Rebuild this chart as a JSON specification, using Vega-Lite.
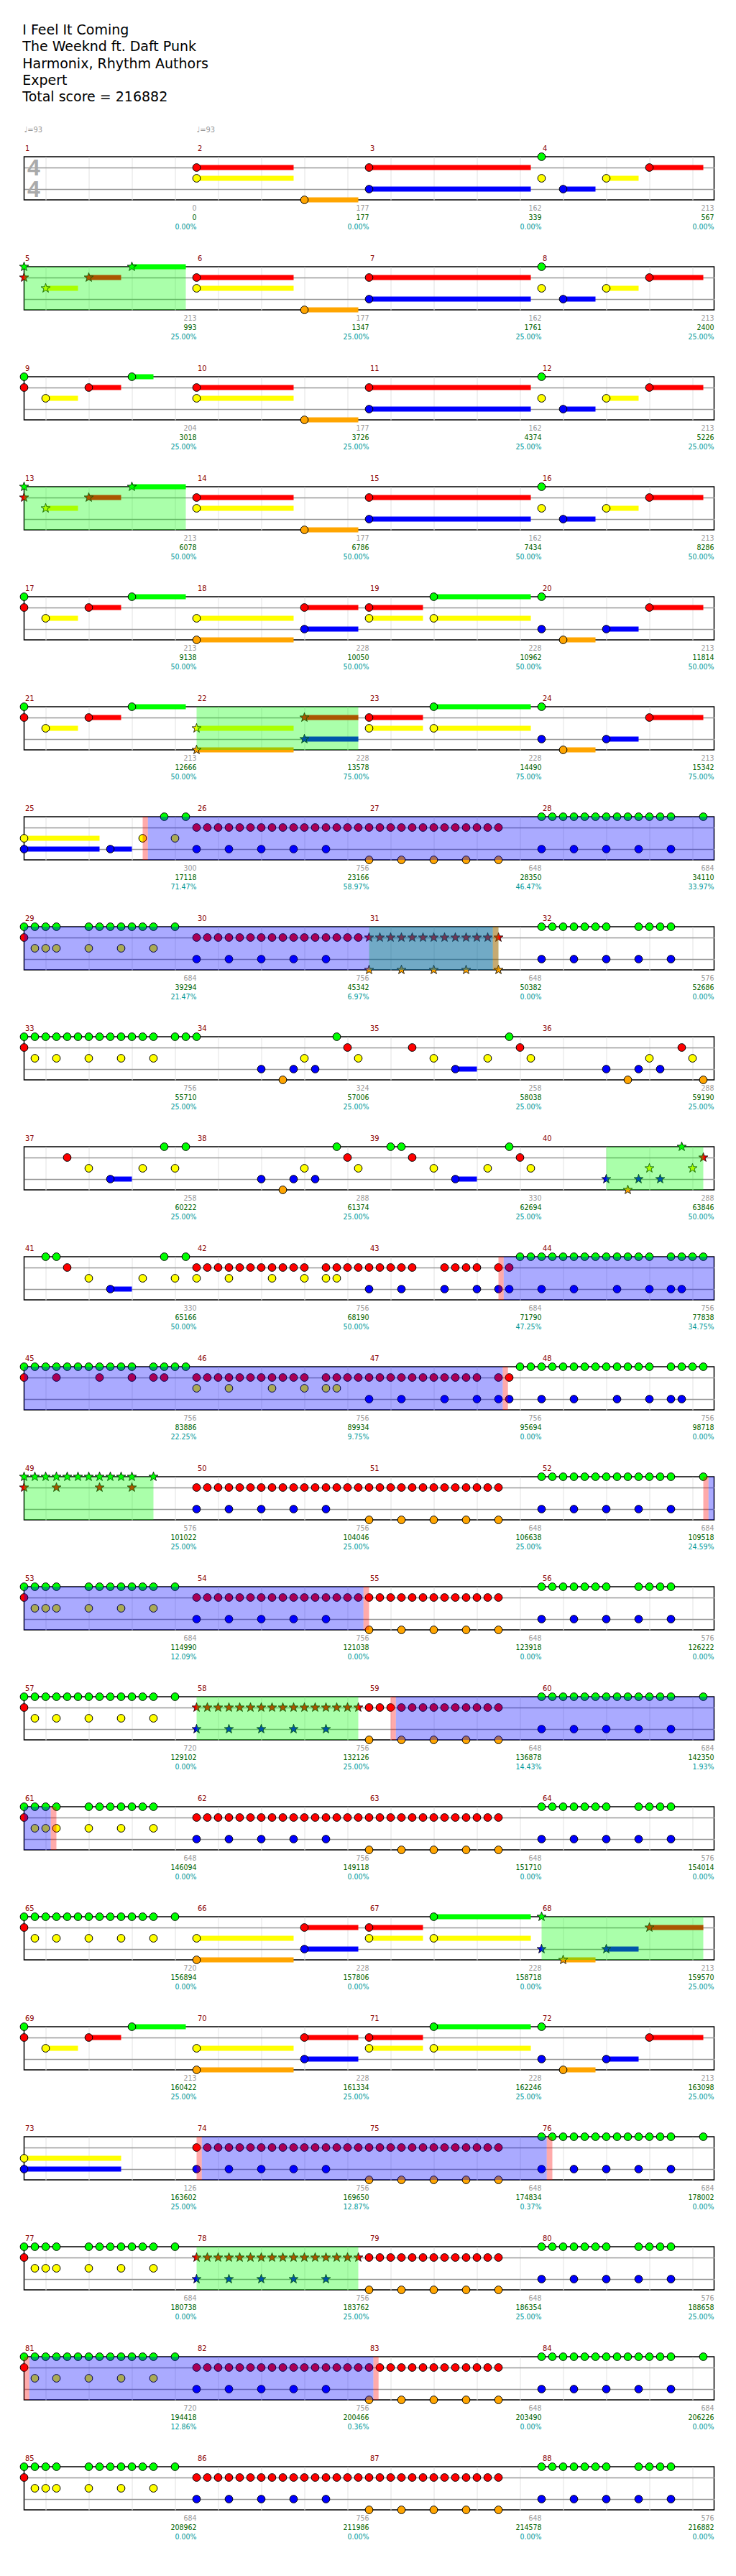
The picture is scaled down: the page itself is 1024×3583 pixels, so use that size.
{
"$schema":"https://vega.github.io/schema/vega-lite/v6.json",
"background":"white",
"padding":{"left":24.5,"top":33,"right":33,"bottom":20},
"title":{"text":["I Feel It Coming","The Weeknd ft. Daft Punk","Harmonix, Rhythm Authors","Expert","Total score = 216882"],"anchor":"start","font":"DejaVu Sans","fontSize":19,"fontWeight":"normal","lineHeight":23.3,"color":"#000000","offset":29,"dx":6.5},
"data":{"values":[
{"k":"ts","r":0,"t":"4"},
{"k":"tp","r":0,"b":0,"t":"♩=93"},{"k":"tp","r":0,"b":4,"t":"♩=93"},
{"k":"sp","r":1,"b":0,"e":3.75},{"k":"sp","r":3,"b":0,"e":3.75},{"k":"sp","r":5,"b":4,"e":7.75},{"k":"sp","r":7,"b":8,"e":11},{"k":"sp","r":9,"b":13.5,"e":15.75},{"k":"sp","r":12,"b":0,"e":3},{"k":"sp","r":14,"b":4,"e":7.75},{"k":"sp","r":16,"b":12,"e":15.75},{"k":"sp","r":19,"b":4,"e":7.75},
{"k":"od","r":6,"b":2.87,"e":16},{"k":"od","r":7,"b":0,"e":10.87},{"k":"od","r":10,"b":11.12,"e":16},{"k":"od","r":11,"b":0,"e":11.1},{"k":"od","r":12,"b":15.87,"e":16},{"k":"od","r":13,"b":0,"e":7.87},{"k":"od","r":14,"b":8.62,"e":16},{"k":"od","r":15,"b":0,"e":0.62},{"k":"od","r":18,"b":4.12,"e":12.12},{"k":"od","r":20,"b":0.12,"e":8.1},
{"k":"act","r":6,"b":2.75,"e":2.87},{"k":"act","r":7,"b":10.87,"e":11},{"k":"act","r":10,"b":11,"e":11.12},{"k":"act","r":11,"b":11.1,"e":11.22},{"k":"act","r":12,"b":15.75,"e":15.87},{"k":"act","r":13,"b":7.87,"e":8},{"k":"act","r":14,"b":8.5,"e":8.62},{"k":"act","r":15,"b":0.62,"e":0.75},{"k":"act","r":18,"b":4,"e":4.12},{"k":"act","r":18,"b":12.12,"e":12.25},{"k":"act","r":20,"b":0,"e":0.12},{"k":"act","r":20,"b":8.1,"e":8.22},
{"k":"m","r":0,"m":"1","b":0,"e":4,"g":"0","c":"0","p":"0.00%"},{"k":"m","r":0,"m":"2","b":4,"e":8,"g":"177","c":"177","p":"0.00%"},{"k":"m","r":0,"m":"3","b":8,"e":12,"g":"162","c":"339","p":"0.00%"},{"k":"m","r":0,"m":"4","b":12,"e":16,"g":"213","c":"567","p":"0.00%"},
{"k":"m","r":1,"m":"5","b":0,"e":4,"g":"213","c":"993","p":"25.00%"},{"k":"m","r":1,"m":"6","b":4,"e":8,"g":"177","c":"1347","p":"25.00%"},{"k":"m","r":1,"m":"7","b":8,"e":12,"g":"162","c":"1761","p":"25.00%"},{"k":"m","r":1,"m":"8","b":12,"e":16,"g":"213","c":"2400","p":"25.00%"},
{"k":"m","r":2,"m":"9","b":0,"e":4,"g":"204","c":"3018","p":"25.00%"},{"k":"m","r":2,"m":"10","b":4,"e":8,"g":"177","c":"3726","p":"25.00%"},{"k":"m","r":2,"m":"11","b":8,"e":12,"g":"162","c":"4374","p":"25.00%"},{"k":"m","r":2,"m":"12","b":12,"e":16,"g":"213","c":"5226","p":"25.00%"},
{"k":"m","r":3,"m":"13","b":0,"e":4,"g":"213","c":"6078","p":"50.00%"},{"k":"m","r":3,"m":"14","b":4,"e":8,"g":"177","c":"6786","p":"50.00%"},{"k":"m","r":3,"m":"15","b":8,"e":12,"g":"162","c":"7434","p":"50.00%"},{"k":"m","r":3,"m":"16","b":12,"e":16,"g":"213","c":"8286","p":"50.00%"},
{"k":"m","r":4,"m":"17","b":0,"e":4,"g":"213","c":"9138","p":"50.00%"},{"k":"m","r":4,"m":"18","b":4,"e":8,"g":"228","c":"10050","p":"50.00%"},{"k":"m","r":4,"m":"19","b":8,"e":12,"g":"228","c":"10962","p":"50.00%"},{"k":"m","r":4,"m":"20","b":12,"e":16,"g":"213","c":"11814","p":"50.00%"},
{"k":"m","r":5,"m":"21","b":0,"e":4,"g":"213","c":"12666","p":"50.00%"},{"k":"m","r":5,"m":"22","b":4,"e":8,"g":"228","c":"13578","p":"75.00%"},{"k":"m","r":5,"m":"23","b":8,"e":12,"g":"228","c":"14490","p":"75.00%"},{"k":"m","r":5,"m":"24","b":12,"e":16,"g":"213","c":"15342","p":"75.00%"},
{"k":"m","r":6,"m":"25","b":0,"e":4,"g":"300","c":"17118","p":"71.47%"},{"k":"m","r":6,"m":"26","b":4,"e":8,"g":"756","c":"23166","p":"58.97%"},{"k":"m","r":6,"m":"27","b":8,"e":12,"g":"648","c":"28350","p":"46.47%"},{"k":"m","r":6,"m":"28","b":12,"e":16,"g":"684","c":"34110","p":"33.97%"},
{"k":"m","r":7,"m":"29","b":0,"e":4,"g":"684","c":"39294","p":"21.47%"},{"k":"m","r":7,"m":"30","b":4,"e":8,"g":"756","c":"45342","p":"6.97%"},{"k":"m","r":7,"m":"31","b":8,"e":12,"g":"648","c":"50382","p":"0.00%"},{"k":"m","r":7,"m":"32","b":12,"e":16,"g":"576","c":"52686","p":"0.00%"},
{"k":"m","r":8,"m":"33","b":0,"e":4,"g":"756","c":"55710","p":"25.00%"},{"k":"m","r":8,"m":"34","b":4,"e":8,"g":"324","c":"57006","p":"25.00%"},{"k":"m","r":8,"m":"35","b":8,"e":12,"g":"258","c":"58038","p":"25.00%"},{"k":"m","r":8,"m":"36","b":12,"e":16,"g":"288","c":"59190","p":"25.00%"},
{"k":"m","r":9,"m":"37","b":0,"e":4,"g":"258","c":"60222","p":"25.00%"},{"k":"m","r":9,"m":"38","b":4,"e":8,"g":"288","c":"61374","p":"25.00%"},{"k":"m","r":9,"m":"39","b":8,"e":12,"g":"330","c":"62694","p":"25.00%"},{"k":"m","r":9,"m":"40","b":12,"e":16,"g":"288","c":"63846","p":"50.00%"},
{"k":"m","r":10,"m":"41","b":0,"e":4,"g":"330","c":"65166","p":"50.00%"},{"k":"m","r":10,"m":"42","b":4,"e":8,"g":"756","c":"68190","p":"50.00%"},{"k":"m","r":10,"m":"43","b":8,"e":12,"g":"684","c":"71790","p":"47.25%"},{"k":"m","r":10,"m":"44","b":12,"e":16,"g":"756","c":"77838","p":"34.75%"},
{"k":"m","r":11,"m":"45","b":0,"e":4,"g":"756","c":"83886","p":"22.25%"},{"k":"m","r":11,"m":"46","b":4,"e":8,"g":"756","c":"89934","p":"9.75%"},{"k":"m","r":11,"m":"47","b":8,"e":12,"g":"756","c":"95694","p":"0.00%"},{"k":"m","r":11,"m":"48","b":12,"e":16,"g":"756","c":"98718","p":"0.00%"},
{"k":"m","r":12,"m":"49","b":0,"e":4,"g":"576","c":"101022","p":"25.00%"},{"k":"m","r":12,"m":"50","b":4,"e":8,"g":"756","c":"104046","p":"25.00%"},{"k":"m","r":12,"m":"51","b":8,"e":12,"g":"648","c":"106638","p":"25.00%"},{"k":"m","r":12,"m":"52","b":12,"e":16,"g":"684","c":"109518","p":"24.59%"},
{"k":"m","r":13,"m":"53","b":0,"e":4,"g":"684","c":"114990","p":"12.09%"},{"k":"m","r":13,"m":"54","b":4,"e":8,"g":"756","c":"121038","p":"0.00%"},{"k":"m","r":13,"m":"55","b":8,"e":12,"g":"648","c":"123918","p":"0.00%"},{"k":"m","r":13,"m":"56","b":12,"e":16,"g":"576","c":"126222","p":"0.00%"},
{"k":"m","r":14,"m":"57","b":0,"e":4,"g":"720","c":"129102","p":"0.00%"},{"k":"m","r":14,"m":"58","b":4,"e":8,"g":"756","c":"132126","p":"25.00%"},{"k":"m","r":14,"m":"59","b":8,"e":12,"g":"648","c":"136878","p":"14.43%"},{"k":"m","r":14,"m":"60","b":12,"e":16,"g":"684","c":"142350","p":"1.93%"},
{"k":"m","r":15,"m":"61","b":0,"e":4,"g":"648","c":"146094","p":"0.00%"},{"k":"m","r":15,"m":"62","b":4,"e":8,"g":"756","c":"149118","p":"0.00%"},{"k":"m","r":15,"m":"63","b":8,"e":12,"g":"648","c":"151710","p":"0.00%"},{"k":"m","r":15,"m":"64","b":12,"e":16,"g":"576","c":"154014","p":"0.00%"},
{"k":"m","r":16,"m":"65","b":0,"e":4,"g":"720","c":"156894","p":"0.00%"},{"k":"m","r":16,"m":"66","b":4,"e":8,"g":"228","c":"157806","p":"0.00%"},{"k":"m","r":16,"m":"67","b":8,"e":12,"g":"228","c":"158718","p":"0.00%"},{"k":"m","r":16,"m":"68","b":12,"e":16,"g":"213","c":"159570","p":"25.00%"},
{"k":"m","r":17,"m":"69","b":0,"e":4,"g":"213","c":"160422","p":"25.00%"},{"k":"m","r":17,"m":"70","b":4,"e":8,"g":"228","c":"161334","p":"25.00%"},{"k":"m","r":17,"m":"71","b":8,"e":12,"g":"228","c":"162246","p":"25.00%"},{"k":"m","r":17,"m":"72","b":12,"e":16,"g":"213","c":"163098","p":"25.00%"},
{"k":"m","r":18,"m":"73","b":0,"e":4,"g":"126","c":"163602","p":"25.00%"},{"k":"m","r":18,"m":"74","b":4,"e":8,"g":"756","c":"169650","p":"12.87%"},{"k":"m","r":18,"m":"75","b":8,"e":12,"g":"648","c":"174834","p":"0.37%"},{"k":"m","r":18,"m":"76","b":12,"e":16,"g":"684","c":"178002","p":"0.00%"},
{"k":"m","r":19,"m":"77","b":0,"e":4,"g":"684","c":"180738","p":"0.00%"},{"k":"m","r":19,"m":"78","b":4,"e":8,"g":"756","c":"183762","p":"25.00%"},{"k":"m","r":19,"m":"79","b":8,"e":12,"g":"648","c":"186354","p":"25.00%"},{"k":"m","r":19,"m":"80","b":12,"e":16,"g":"576","c":"188658","p":"25.00%"},
{"k":"m","r":20,"m":"81","b":0,"e":4,"g":"720","c":"194418","p":"12.86%"},{"k":"m","r":20,"m":"82","b":4,"e":8,"g":"756","c":"200466","p":"0.36%"},{"k":"m","r":20,"m":"83","b":8,"e":12,"g":"648","c":"203490","p":"0.00%"},{"k":"m","r":20,"m":"84","b":12,"e":16,"g":"684","c":"206226","p":"0.00%"},
{"k":"m","r":21,"m":"85","b":0,"e":4,"g":"684","c":"208962","p":"0.00%"},{"k":"m","r":21,"m":"86","b":4,"e":8,"g":"756","c":"211986","p":"0.00%"},{"k":"m","r":21,"m":"87","b":8,"e":12,"g":"648","c":"214578","p":"0.00%"},{"k":"m","r":21,"m":"88","b":12,"e":16,"g":"576","c":"216882","p":"0.00%"},

{"r":0,"b":4,"l":1,"e":6.25},{"r":0,"b":4,"l":2,"e":6.25},{"r":0,"b":6.5,"l":4,"e":7.75},{"r":0,"b":8,"l":1,"e":11.75},{"r":0,"b":8,"l":3,"e":11.75},{"r":0,"b":12,"l":0},{"r":0,"b":12,"l":2},{"r":0,"b":12.5,"l":3,"e":13.25},{"r":0,"b":13.5,"l":2,"e":14.25},{"r":0,"b":14.5,"l":1,"e":15.75},

{"r":1,"b":0,"l":0,"s":1},{"r":1,"b":2.5,"l":0,"e":3.75,"s":1},{"r":1,"b":0,"l":1,"s":1},{"r":1,"b":1.5,"l":1,"e":2.25,"s":1},{"r":1,"b":0.5,"l":2,"e":1.25,"s":1},
{"r":1,"b":4,"l":1,"e":6.25},{"r":1,"b":4,"l":2,"e":6.25},{"r":1,"b":6.5,"l":4,"e":7.75},{"r":1,"b":8,"l":1,"e":11.75},{"r":1,"b":8,"l":3,"e":11.75},{"r":1,"b":12,"l":0},{"r":1,"b":12,"l":2},{"r":1,"b":12.5,"l":3,"e":13.25},{"r":1,"b":13.5,"l":2,"e":14.25},{"r":1,"b":14.5,"l":1,"e":15.75},

{"r":2,"b":0,"l":0},{"r":2,"b":2.5,"l":0,"e":3},{"r":2,"b":0,"l":1},{"r":2,"b":1.5,"l":1,"e":2.25},{"r":2,"b":0.5,"l":2,"e":1.25},
{"r":2,"b":4,"l":1,"e":6.25},{"r":2,"b":4,"l":2,"e":6.25},{"r":2,"b":6.5,"l":4,"e":7.75},{"r":2,"b":8,"l":1,"e":11.75},{"r":2,"b":8,"l":3,"e":11.75},{"r":2,"b":12,"l":0},{"r":2,"b":12,"l":2},{"r":2,"b":12.5,"l":3,"e":13.25},{"r":2,"b":13.5,"l":2,"e":14.25},{"r":2,"b":14.5,"l":1,"e":15.75},

{"r":3,"b":0,"l":0,"s":1},{"r":3,"b":2.5,"l":0,"e":3.75,"s":1},{"r":3,"b":0,"l":1,"s":1},{"r":3,"b":1.5,"l":1,"e":2.25,"s":1},{"r":3,"b":0.5,"l":2,"e":1.25,"s":1},
{"r":3,"b":4,"l":1,"e":6.25},{"r":3,"b":4,"l":2,"e":6.25},{"r":3,"b":6.5,"l":4,"e":7.75},{"r":3,"b":8,"l":1,"e":11.75},{"r":3,"b":8,"l":3,"e":11.75},{"r":3,"b":12,"l":0},{"r":3,"b":12,"l":2},{"r":3,"b":12.5,"l":3,"e":13.25},{"r":3,"b":13.5,"l":2,"e":14.25},{"r":3,"b":14.5,"l":1,"e":15.75},

{"r":4,"b":0,"l":0},{"r":4,"b":2.5,"l":0,"e":3.75},{"r":4,"b":0,"l":1},{"r":4,"b":1.5,"l":1,"e":2.25},{"r":4,"b":0.5,"l":2,"e":1.25},
{"r":4,"b":4,"l":2,"e":6.25},{"r":4,"b":4,"l":4,"e":6.25},{"r":4,"b":6.5,"l":1,"e":7.75},{"r":4,"b":6.5,"l":3,"e":7.75},
{"r":4,"b":8,"l":1,"e":9.25},{"r":4,"b":8,"l":2,"e":9.25},{"r":4,"b":9.5,"l":0,"e":11.75},{"r":4,"b":9.5,"l":2,"e":11.75},
{"r":4,"b":12,"l":0},{"r":4,"b":12,"l":3},{"r":4,"b":12.5,"l":4,"e":13.25},{"r":4,"b":13.5,"l":3,"e":14.25},{"r":4,"b":14.5,"l":1,"e":15.75},

{"r":5,"b":0,"l":0},{"r":5,"b":2.5,"l":0,"e":3.75},{"r":5,"b":0,"l":1},{"r":5,"b":1.5,"l":1,"e":2.25},{"r":5,"b":0.5,"l":2,"e":1.25},
{"r":5,"b":4,"l":2,"e":6.25,"s":1},{"r":5,"b":4,"l":4,"e":6.25,"s":1},{"r":5,"b":6.5,"l":1,"e":7.75,"s":1},{"r":5,"b":6.5,"l":3,"e":7.75,"s":1},
{"r":5,"b":8,"l":1,"e":9.25},{"r":5,"b":8,"l":2,"e":9.25},{"r":5,"b":9.5,"l":0,"e":11.75},{"r":5,"b":9.5,"l":2,"e":11.75},
{"r":5,"b":12,"l":0},{"r":5,"b":12,"l":3},{"r":5,"b":12.5,"l":4,"e":13.25},{"r":5,"b":13.5,"l":3,"e":14.25},{"r":5,"b":14.5,"l":1,"e":15.75},

{"r":6,"b":0,"l":2,"e":1.75},{"r":6,"b":0,"l":3,"e":1.75},{"r":6,"b":2,"l":3,"e":2.5},{"r":6,"b":2.75,"l":2},{"r":6,"b":3.25,"l":0},{"r":6,"b":3.5,"l":2},{"r":6,"b":3.75,"l":0},
{"r":6,"b":4,"l":1},{"r":6,"b":4.25,"l":1},{"r":6,"b":4.5,"l":1},{"r":6,"b":4.75,"l":1},{"r":6,"b":5,"l":1},{"r":6,"b":5.25,"l":1},{"r":6,"b":5.5,"l":1},{"r":6,"b":5.75,"l":1},{"r":6,"b":6,"l":1},{"r":6,"b":6.25,"l":1},{"r":6,"b":6.5,"l":1},{"r":6,"b":6.75,"l":1},{"r":6,"b":7,"l":1},{"r":6,"b":7.25,"l":1},{"r":6,"b":7.5,"l":1},{"r":6,"b":7.75,"l":1},{"r":6,"b":8,"l":1},{"r":6,"b":8.25,"l":1},{"r":6,"b":8.5,"l":1},{"r":6,"b":8.75,"l":1},{"r":6,"b":9,"l":1},{"r":6,"b":9.25,"l":1},{"r":6,"b":9.5,"l":1},{"r":6,"b":9.75,"l":1},{"r":6,"b":10,"l":1},{"r":6,"b":10.25,"l":1},{"r":6,"b":10.5,"l":1},{"r":6,"b":10.75,"l":1},{"r":6,"b":11,"l":1},
{"r":6,"b":4,"l":3},{"r":6,"b":4.75,"l":3},{"r":6,"b":5.5,"l":3},{"r":6,"b":6.25,"l":3},{"r":6,"b":7,"l":3},
{"r":6,"b":8,"l":4},{"r":6,"b":8.75,"l":4},{"r":6,"b":9.5,"l":4},{"r":6,"b":10.25,"l":4},{"r":6,"b":11,"l":4},
{"r":6,"b":12,"l":0},{"r":6,"b":12.25,"l":0},{"r":6,"b":12.5,"l":0},{"r":6,"b":12.75,"l":0},{"r":6,"b":13,"l":0},{"r":6,"b":13.25,"l":0},{"r":6,"b":13.5,"l":0},{"r":6,"b":13.75,"l":0},{"r":6,"b":14,"l":0},{"r":6,"b":14.25,"l":0},{"r":6,"b":14.5,"l":0},{"r":6,"b":14.75,"l":0},{"r":6,"b":15,"l":0},{"r":6,"b":15.75,"l":0},
{"r":6,"b":12,"l":3},{"r":6,"b":12.75,"l":3},{"r":6,"b":13.5,"l":3},{"r":6,"b":14.25,"l":3},{"r":6,"b":15,"l":3},

{"r":7,"b":0,"l":0},{"r":7,"b":0.25,"l":0},{"r":7,"b":0.5,"l":0},{"r":7,"b":0.75,"l":0},{"r":7,"b":1.5,"l":0},{"r":7,"b":1.75,"l":0},{"r":7,"b":2,"l":0},{"r":7,"b":2.25,"l":0},{"r":7,"b":2.5,"l":0},{"r":7,"b":2.75,"l":0},{"r":7,"b":3,"l":0},{"r":7,"b":3.5,"l":0},
{"r":7,"b":0,"l":1},
{"r":7,"b":0.25,"l":2},{"r":7,"b":0.5,"l":2},{"r":7,"b":0.75,"l":2},{"r":7,"b":1.5,"l":2},{"r":7,"b":2.25,"l":2},{"r":7,"b":3,"l":2},
{"r":7,"b":4,"l":1},{"r":7,"b":4.25,"l":1},{"r":7,"b":4.5,"l":1},{"r":7,"b":4.75,"l":1},{"r":7,"b":5,"l":1},{"r":7,"b":5.25,"l":1},{"r":7,"b":5.5,"l":1},{"r":7,"b":5.75,"l":1},{"r":7,"b":6,"l":1},{"r":7,"b":6.25,"l":1},{"r":7,"b":6.5,"l":1},{"r":7,"b":6.75,"l":1},{"r":7,"b":7,"l":1},{"r":7,"b":7.25,"l":1},{"r":7,"b":7.5,"l":1},{"r":7,"b":7.75,"l":1},
{"r":7,"b":8,"l":1,"s":1},{"r":7,"b":8.25,"l":1,"s":1},{"r":7,"b":8.5,"l":1,"s":1},{"r":7,"b":8.75,"l":1,"s":1},{"r":7,"b":9,"l":1,"s":1},{"r":7,"b":9.25,"l":1,"s":1},{"r":7,"b":9.5,"l":1,"s":1},{"r":7,"b":9.75,"l":1,"s":1},{"r":7,"b":10,"l":1,"s":1},{"r":7,"b":10.25,"l":1,"s":1},{"r":7,"b":10.5,"l":1,"s":1},{"r":7,"b":10.75,"l":1,"s":1},{"r":7,"b":11,"l":1,"s":1},
{"r":7,"b":4,"l":3},{"r":7,"b":4.75,"l":3},{"r":7,"b":5.5,"l":3},{"r":7,"b":6.25,"l":3},{"r":7,"b":7,"l":3},
{"r":7,"b":8,"l":4,"s":1},{"r":7,"b":8.75,"l":4,"s":1},{"r":7,"b":9.5,"l":4,"s":1},{"r":7,"b":10.25,"l":4,"s":1},{"r":7,"b":11,"l":4,"s":1},
{"r":7,"b":12,"l":0},{"r":7,"b":12.25,"l":0},{"r":7,"b":12.5,"l":0},{"r":7,"b":12.75,"l":0},{"r":7,"b":13,"l":0},{"r":7,"b":13.25,"l":0},{"r":7,"b":13.5,"l":0},{"r":7,"b":14.25,"l":0},{"r":7,"b":14.5,"l":0},{"r":7,"b":14.75,"l":0},{"r":7,"b":15,"l":0},
{"r":7,"b":12,"l":3},{"r":7,"b":12.75,"l":3},{"r":7,"b":13.5,"l":3},{"r":7,"b":14.25,"l":3},{"r":7,"b":15,"l":3},

{"r":8,"b":0,"l":0},{"r":8,"b":0.25,"l":0},{"r":8,"b":0.5,"l":0},{"r":8,"b":0.75,"l":0},{"r":8,"b":1,"l":0},{"r":8,"b":1.25,"l":0},{"r":8,"b":1.5,"l":0},{"r":8,"b":1.75,"l":0},{"r":8,"b":2,"l":0},{"r":8,"b":2.25,"l":0},{"r":8,"b":2.5,"l":0},{"r":8,"b":2.75,"l":0},{"r":8,"b":3,"l":0},{"r":8,"b":3.5,"l":0},{"r":8,"b":3.75,"l":0},{"r":8,"b":4,"l":0},
{"r":8,"b":0,"l":1},
{"r":8,"b":0.25,"l":2},{"r":8,"b":0.75,"l":2},{"r":8,"b":1.5,"l":2},{"r":8,"b":2.25,"l":2},{"r":8,"b":3,"l":2},
{"r":8,"b":5.5,"l":3},{"r":8,"b":6,"l":4},{"r":8,"b":6.25,"l":3},{"r":8,"b":6.5,"l":2},{"r":8,"b":6.75,"l":3},{"r":8,"b":7.25,"l":0},{"r":8,"b":7.5,"l":1},{"r":8,"b":7.75,"l":2},
{"r":8,"b":9,"l":1},{"r":8,"b":9.5,"l":2},{"r":8,"b":10,"l":3,"e":10.5},{"r":8,"b":10.75,"l":2},{"r":8,"b":11.25,"l":0},{"r":8,"b":11.5,"l":1},{"r":8,"b":11.75,"l":2},
{"r":8,"b":13.5,"l":3},{"r":8,"b":14,"l":4},{"r":8,"b":14.25,"l":3},{"r":8,"b":14.5,"l":2},{"r":8,"b":14.75,"l":3},{"r":8,"b":15.25,"l":1},{"r":8,"b":15.5,"l":2},{"r":8,"b":15.75,"l":4},

{"r":9,"b":1,"l":1},{"r":9,"b":1.5,"l":2},{"r":9,"b":2,"l":3,"e":2.5},{"r":9,"b":2.75,"l":2},{"r":9,"b":3.25,"l":0},{"r":9,"b":3.5,"l":2},{"r":9,"b":3.75,"l":0},
{"r":9,"b":5.5,"l":3},{"r":9,"b":6,"l":4},{"r":9,"b":6.25,"l":3},{"r":9,"b":6.5,"l":2},{"r":9,"b":6.75,"l":3},{"r":9,"b":7.25,"l":0},{"r":9,"b":7.5,"l":1},{"r":9,"b":7.75,"l":2},
{"r":9,"b":8.5,"l":0},{"r":9,"b":8.75,"l":0},{"r":9,"b":9,"l":1},{"r":9,"b":9.5,"l":2},{"r":9,"b":10,"l":3,"e":10.5},{"r":9,"b":10.75,"l":2},{"r":9,"b":11.25,"l":0},{"r":9,"b":11.5,"l":1},{"r":9,"b":11.75,"l":2},
{"r":9,"b":13.5,"l":3,"s":1},{"r":9,"b":14,"l":4,"s":1},{"r":9,"b":14.25,"l":3,"s":1},{"r":9,"b":14.5,"l":2,"s":1},{"r":9,"b":14.75,"l":3,"s":1},{"r":9,"b":15.25,"l":0,"s":1},{"r":9,"b":15.5,"l":2,"s":1},{"r":9,"b":15.75,"l":1,"s":1},

{"r":10,"b":0.5,"l":0},{"r":10,"b":0.75,"l":0},{"r":10,"b":1,"l":1},{"r":10,"b":1.5,"l":2},{"r":10,"b":2,"l":3,"e":2.5},{"r":10,"b":2.75,"l":2},{"r":10,"b":3.25,"l":0},{"r":10,"b":3.5,"l":2},{"r":10,"b":3.75,"l":0},
{"r":10,"b":4,"l":1},{"r":10,"b":4.25,"l":1},{"r":10,"b":4.5,"l":1},{"r":10,"b":4.75,"l":1},{"r":10,"b":5,"l":1},{"r":10,"b":5.25,"l":1},{"r":10,"b":5.5,"l":1},{"r":10,"b":5.75,"l":1},{"r":10,"b":6,"l":1},{"r":10,"b":6.25,"l":1},{"r":10,"b":6.5,"l":1},
{"r":10,"b":7,"l":1},{"r":10,"b":7.25,"l":1},{"r":10,"b":7.5,"l":1},{"r":10,"b":7.75,"l":1},{"r":10,"b":8,"l":1},{"r":10,"b":8.25,"l":1},{"r":10,"b":8.5,"l":1},{"r":10,"b":8.75,"l":1},{"r":10,"b":9,"l":1},
{"r":10,"b":9.75,"l":1},{"r":10,"b":10,"l":1},{"r":10,"b":10.25,"l":1},{"r":10,"b":10.5,"l":1},{"r":10,"b":11,"l":1},{"r":10,"b":11.25,"l":1},
{"r":10,"b":4,"l":2},{"r":10,"b":4.75,"l":2},{"r":10,"b":5.75,"l":2},{"r":10,"b":6.5,"l":2},{"r":10,"b":7,"l":2},{"r":10,"b":7.25,"l":2},
{"r":10,"b":8,"l":3},{"r":10,"b":8.75,"l":3},{"r":10,"b":9.75,"l":3},{"r":10,"b":10.5,"l":3},{"r":10,"b":11,"l":3},{"r":10,"b":11.25,"l":3},{"r":10,"b":12,"l":3},{"r":10,"b":12.75,"l":3},{"r":10,"b":13.75,"l":3},{"r":10,"b":14.5,"l":3},{"r":10,"b":15,"l":3},{"r":10,"b":15.25,"l":3},
{"r":10,"b":11.5,"l":0},{"r":10,"b":11.75,"l":0},{"r":10,"b":12,"l":0},{"r":10,"b":12.25,"l":0},{"r":10,"b":12.5,"l":0},{"r":10,"b":12.75,"l":0},{"r":10,"b":13,"l":0},{"r":10,"b":13.25,"l":0},{"r":10,"b":13.5,"l":0},{"r":10,"b":13.75,"l":0},{"r":10,"b":14,"l":0},{"r":10,"b":14.25,"l":0},{"r":10,"b":14.5,"l":0},{"r":10,"b":15,"l":0},{"r":10,"b":15.25,"l":0},{"r":10,"b":15.5,"l":0},{"r":10,"b":15.75,"l":0},

{"r":11,"b":0,"l":0},{"r":11,"b":0.25,"l":0},{"r":11,"b":0.5,"l":0},{"r":11,"b":0.75,"l":0},{"r":11,"b":1,"l":0},{"r":11,"b":1.25,"l":0},{"r":11,"b":1.5,"l":0},{"r":11,"b":1.75,"l":0},{"r":11,"b":2,"l":0},{"r":11,"b":2.25,"l":0},{"r":11,"b":2.5,"l":0},{"r":11,"b":3,"l":0},{"r":11,"b":3.25,"l":0},{"r":11,"b":3.5,"l":0},{"r":11,"b":3.75,"l":0},
{"r":11,"b":0,"l":1},{"r":11,"b":0.75,"l":1},{"r":11,"b":1.75,"l":1},{"r":11,"b":2.5,"l":1},{"r":11,"b":3,"l":1},{"r":11,"b":3.25,"l":1},
{"r":11,"b":4,"l":1},{"r":11,"b":4.25,"l":1},{"r":11,"b":4.5,"l":1},{"r":11,"b":4.75,"l":1},{"r":11,"b":5,"l":1},{"r":11,"b":5.25,"l":1},{"r":11,"b":5.5,"l":1},{"r":11,"b":5.75,"l":1},{"r":11,"b":6,"l":1},{"r":11,"b":6.25,"l":1},{"r":11,"b":6.5,"l":1},
{"r":11,"b":7,"l":1},{"r":11,"b":7.25,"l":1},{"r":11,"b":7.5,"l":1},{"r":11,"b":7.75,"l":1},{"r":11,"b":8,"l":1},{"r":11,"b":8.25,"l":1},{"r":11,"b":8.5,"l":1},{"r":11,"b":8.75,"l":1},{"r":11,"b":9,"l":1},{"r":11,"b":9.25,"l":1},{"r":11,"b":9.5,"l":1},{"r":11,"b":9.75,"l":1},{"r":11,"b":10,"l":1},{"r":11,"b":10.25,"l":1},{"r":11,"b":10.5,"l":1},{"r":11,"b":11,"l":1},{"r":11,"b":11.25,"l":1},
{"r":11,"b":4,"l":2},{"r":11,"b":4.75,"l":2},{"r":11,"b":5.75,"l":2},{"r":11,"b":6.5,"l":2},{"r":11,"b":7,"l":2},{"r":11,"b":7.25,"l":2},
{"r":11,"b":8,"l":3},{"r":11,"b":8.75,"l":3},{"r":11,"b":9.75,"l":3},{"r":11,"b":10.5,"l":3},{"r":11,"b":11,"l":3},{"r":11,"b":11.25,"l":3},{"r":11,"b":12,"l":3},{"r":11,"b":12.75,"l":3},{"r":11,"b":13.75,"l":3},{"r":11,"b":14.5,"l":3},{"r":11,"b":15,"l":3},{"r":11,"b":15.25,"l":3},
{"r":11,"b":11.5,"l":0},{"r":11,"b":11.75,"l":0},{"r":11,"b":12,"l":0},{"r":11,"b":12.25,"l":0},{"r":11,"b":12.5,"l":0},{"r":11,"b":12.75,"l":0},{"r":11,"b":13,"l":0},{"r":11,"b":13.25,"l":0},{"r":11,"b":13.5,"l":0},{"r":11,"b":13.75,"l":0},{"r":11,"b":14,"l":0},{"r":11,"b":14.25,"l":0},{"r":11,"b":14.5,"l":0},{"r":11,"b":15,"l":0},{"r":11,"b":15.25,"l":0},{"r":11,"b":15.5,"l":0},{"r":11,"b":15.75,"l":0},

{"r":12,"b":0,"l":0,"s":1},{"r":12,"b":0.25,"l":0,"s":1},{"r":12,"b":0.5,"l":0,"s":1},{"r":12,"b":0.75,"l":0,"s":1},{"r":12,"b":1,"l":0,"s":1},{"r":12,"b":1.25,"l":0,"s":1},{"r":12,"b":1.5,"l":0,"s":1},{"r":12,"b":1.75,"l":0,"s":1},{"r":12,"b":2,"l":0,"s":1},{"r":12,"b":2.25,"l":0,"s":1},{"r":12,"b":2.5,"l":0,"s":1},{"r":12,"b":3,"l":0,"s":1},
{"r":12,"b":0,"l":1,"s":1},{"r":12,"b":0.75,"l":1,"s":1},{"r":12,"b":1.75,"l":1,"s":1},{"r":12,"b":2.5,"l":1,"s":1},
{"r":12,"b":4,"l":1},{"r":12,"b":4.25,"l":1},{"r":12,"b":4.5,"l":1},{"r":12,"b":4.75,"l":1},{"r":12,"b":5,"l":1},{"r":12,"b":5.25,"l":1},{"r":12,"b":5.5,"l":1},{"r":12,"b":5.75,"l":1},{"r":12,"b":6,"l":1},{"r":12,"b":6.25,"l":1},{"r":12,"b":6.5,"l":1},{"r":12,"b":6.75,"l":1},{"r":12,"b":7,"l":1},{"r":12,"b":7.25,"l":1},{"r":12,"b":7.5,"l":1},{"r":12,"b":7.75,"l":1},{"r":12,"b":8,"l":1},{"r":12,"b":8.25,"l":1},{"r":12,"b":8.5,"l":1},{"r":12,"b":8.75,"l":1},{"r":12,"b":9,"l":1},{"r":12,"b":9.25,"l":1},{"r":12,"b":9.5,"l":1},{"r":12,"b":9.75,"l":1},{"r":12,"b":10,"l":1},{"r":12,"b":10.25,"l":1},{"r":12,"b":10.5,"l":1},{"r":12,"b":10.75,"l":1},{"r":12,"b":11,"l":1},
{"r":12,"b":4,"l":3},{"r":12,"b":4.75,"l":3},{"r":12,"b":5.5,"l":3},{"r":12,"b":6.25,"l":3},{"r":12,"b":7,"l":3},
{"r":12,"b":8,"l":4},{"r":12,"b":8.75,"l":4},{"r":12,"b":9.5,"l":4},{"r":12,"b":10.25,"l":4},{"r":12,"b":11,"l":4},
{"r":12,"b":12,"l":0},{"r":12,"b":12.25,"l":0},{"r":12,"b":12.5,"l":0},{"r":12,"b":12.75,"l":0},{"r":12,"b":13,"l":0},{"r":12,"b":13.25,"l":0},{"r":12,"b":13.5,"l":0},{"r":12,"b":13.75,"l":0},{"r":12,"b":14,"l":0},{"r":12,"b":14.25,"l":0},{"r":12,"b":14.5,"l":0},{"r":12,"b":14.75,"l":0},{"r":12,"b":15,"l":0},{"r":12,"b":15.75,"l":0},
{"r":12,"b":12,"l":3},{"r":12,"b":12.75,"l":3},{"r":12,"b":13.5,"l":3},{"r":12,"b":14.25,"l":3},{"r":12,"b":15,"l":3},

{"r":13,"b":0,"l":0},{"r":13,"b":0.25,"l":0},{"r":13,"b":0.5,"l":0},{"r":13,"b":0.75,"l":0},{"r":13,"b":1.5,"l":0},{"r":13,"b":1.75,"l":0},{"r":13,"b":2,"l":0},{"r":13,"b":2.25,"l":0},{"r":13,"b":2.5,"l":0},{"r":13,"b":2.75,"l":0},{"r":13,"b":3,"l":0},{"r":13,"b":3.5,"l":0},
{"r":13,"b":0,"l":1},
{"r":13,"b":0.25,"l":2},{"r":13,"b":0.5,"l":2},{"r":13,"b":0.75,"l":2},{"r":13,"b":1.5,"l":2},{"r":13,"b":2.25,"l":2},{"r":13,"b":3,"l":2},
{"r":13,"b":4,"l":1},{"r":13,"b":4.25,"l":1},{"r":13,"b":4.5,"l":1},{"r":13,"b":4.75,"l":1},{"r":13,"b":5,"l":1},{"r":13,"b":5.25,"l":1},{"r":13,"b":5.5,"l":1},{"r":13,"b":5.75,"l":1},{"r":13,"b":6,"l":1},{"r":13,"b":6.25,"l":1},{"r":13,"b":6.5,"l":1},{"r":13,"b":6.75,"l":1},{"r":13,"b":7,"l":1},{"r":13,"b":7.25,"l":1},{"r":13,"b":7.5,"l":1},{"r":13,"b":7.75,"l":1},{"r":13,"b":8,"l":1},{"r":13,"b":8.25,"l":1},{"r":13,"b":8.5,"l":1},{"r":13,"b":8.75,"l":1},{"r":13,"b":9,"l":1},{"r":13,"b":9.25,"l":1},{"r":13,"b":9.5,"l":1},{"r":13,"b":9.75,"l":1},{"r":13,"b":10,"l":1},{"r":13,"b":10.25,"l":1},{"r":13,"b":10.5,"l":1},{"r":13,"b":10.75,"l":1},{"r":13,"b":11,"l":1},
{"r":13,"b":4,"l":3},{"r":13,"b":4.75,"l":3},{"r":13,"b":5.5,"l":3},{"r":13,"b":6.25,"l":3},{"r":13,"b":7,"l":3},
{"r":13,"b":8,"l":4},{"r":13,"b":8.75,"l":4},{"r":13,"b":9.5,"l":4},{"r":13,"b":10.25,"l":4},{"r":13,"b":11,"l":4},
{"r":13,"b":12,"l":0},{"r":13,"b":12.25,"l":0},{"r":13,"b":12.5,"l":0},{"r":13,"b":12.75,"l":0},{"r":13,"b":13,"l":0},{"r":13,"b":13.25,"l":0},{"r":13,"b":13.5,"l":0},{"r":13,"b":14.25,"l":0},{"r":13,"b":14.5,"l":0},{"r":13,"b":14.75,"l":0},{"r":13,"b":15,"l":0},
{"r":13,"b":12,"l":3},{"r":13,"b":12.75,"l":3},{"r":13,"b":13.5,"l":3},{"r":13,"b":14.25,"l":3},{"r":13,"b":15,"l":3},

{"r":14,"b":0,"l":0},{"r":14,"b":0.25,"l":0},{"r":14,"b":0.5,"l":0},{"r":14,"b":0.75,"l":0},{"r":14,"b":1,"l":0},{"r":14,"b":1.25,"l":0},{"r":14,"b":1.5,"l":0},{"r":14,"b":1.75,"l":0},{"r":14,"b":2,"l":0},{"r":14,"b":2.25,"l":0},{"r":14,"b":2.5,"l":0},{"r":14,"b":2.75,"l":0},{"r":14,"b":3,"l":0},{"r":14,"b":3.5,"l":0},
{"r":14,"b":0,"l":1},
{"r":14,"b":0.25,"l":2},{"r":14,"b":0.75,"l":2},{"r":14,"b":1.5,"l":2},{"r":14,"b":2.25,"l":2},{"r":14,"b":3,"l":2},
{"r":14,"b":4,"l":1,"s":1},{"r":14,"b":4.25,"l":1,"s":1},{"r":14,"b":4.5,"l":1,"s":1},{"r":14,"b":4.75,"l":1,"s":1},{"r":14,"b":5,"l":1,"s":1},{"r":14,"b":5.25,"l":1,"s":1},{"r":14,"b":5.5,"l":1,"s":1},{"r":14,"b":5.75,"l":1,"s":1},{"r":14,"b":6,"l":1,"s":1},{"r":14,"b":6.25,"l":1,"s":1},{"r":14,"b":6.5,"l":1,"s":1},{"r":14,"b":6.75,"l":1,"s":1},{"r":14,"b":7,"l":1,"s":1},{"r":14,"b":7.25,"l":1,"s":1},{"r":14,"b":7.5,"l":1,"s":1},{"r":14,"b":7.75,"l":1,"s":1},
{"r":14,"b":8,"l":1},{"r":14,"b":8.25,"l":1},{"r":14,"b":8.5,"l":1},{"r":14,"b":8.75,"l":1},{"r":14,"b":9,"l":1},{"r":14,"b":9.25,"l":1},{"r":14,"b":9.5,"l":1},{"r":14,"b":9.75,"l":1},{"r":14,"b":10,"l":1},{"r":14,"b":10.25,"l":1},{"r":14,"b":10.5,"l":1},{"r":14,"b":10.75,"l":1},{"r":14,"b":11,"l":1},
{"r":14,"b":4,"l":3,"s":1},{"r":14,"b":4.75,"l":3,"s":1},{"r":14,"b":5.5,"l":3,"s":1},{"r":14,"b":6.25,"l":3,"s":1},{"r":14,"b":7,"l":3,"s":1},
{"r":14,"b":8,"l":4},{"r":14,"b":8.75,"l":4},{"r":14,"b":9.5,"l":4},{"r":14,"b":10.25,"l":4},{"r":14,"b":11,"l":4},
{"r":14,"b":12,"l":0},{"r":14,"b":12.25,"l":0},{"r":14,"b":12.5,"l":0},{"r":14,"b":12.75,"l":0},{"r":14,"b":13,"l":0},{"r":14,"b":13.25,"l":0},{"r":14,"b":13.5,"l":0},{"r":14,"b":13.75,"l":0},{"r":14,"b":14,"l":0},{"r":14,"b":14.25,"l":0},{"r":14,"b":14.5,"l":0},{"r":14,"b":14.75,"l":0},{"r":14,"b":15,"l":0},{"r":14,"b":15.75,"l":0},
{"r":14,"b":12,"l":3},{"r":14,"b":12.75,"l":3},{"r":14,"b":13.5,"l":3},{"r":14,"b":14.25,"l":3},{"r":14,"b":15,"l":3},

{"r":15,"b":0,"l":0},{"r":15,"b":0.25,"l":0},{"r":15,"b":0.5,"l":0},{"r":15,"b":0.75,"l":0},{"r":15,"b":1.5,"l":0},{"r":15,"b":1.75,"l":0},{"r":15,"b":2,"l":0},{"r":15,"b":2.25,"l":0},{"r":15,"b":2.5,"l":0},{"r":15,"b":2.75,"l":0},{"r":15,"b":3,"l":0},
{"r":15,"b":0,"l":1},
{"r":15,"b":0.25,"l":2},{"r":15,"b":0.5,"l":2},{"r":15,"b":0.75,"l":2},{"r":15,"b":1.5,"l":2},{"r":15,"b":2.25,"l":2},{"r":15,"b":3,"l":2},
{"r":15,"b":4,"l":1},{"r":15,"b":4.25,"l":1},{"r":15,"b":4.5,"l":1},{"r":15,"b":4.75,"l":1},{"r":15,"b":5,"l":1},{"r":15,"b":5.25,"l":1},{"r":15,"b":5.5,"l":1},{"r":15,"b":5.75,"l":1},{"r":15,"b":6,"l":1},{"r":15,"b":6.25,"l":1},{"r":15,"b":6.5,"l":1},{"r":15,"b":6.75,"l":1},{"r":15,"b":7,"l":1},{"r":15,"b":7.25,"l":1},{"r":15,"b":7.5,"l":1},{"r":15,"b":7.75,"l":1},{"r":15,"b":8,"l":1},{"r":15,"b":8.25,"l":1},{"r":15,"b":8.5,"l":1},{"r":15,"b":8.75,"l":1},{"r":15,"b":9,"l":1},{"r":15,"b":9.25,"l":1},{"r":15,"b":9.5,"l":1},{"r":15,"b":9.75,"l":1},{"r":15,"b":10,"l":1},{"r":15,"b":10.25,"l":1},{"r":15,"b":10.5,"l":1},{"r":15,"b":10.75,"l":1},{"r":15,"b":11,"l":1},
{"r":15,"b":4,"l":3},{"r":15,"b":4.75,"l":3},{"r":15,"b":5.5,"l":3},{"r":15,"b":6.25,"l":3},{"r":15,"b":7,"l":3},
{"r":15,"b":8,"l":4},{"r":15,"b":8.75,"l":4},{"r":15,"b":9.5,"l":4},{"r":15,"b":10.25,"l":4},{"r":15,"b":11,"l":4},
{"r":15,"b":12,"l":0},{"r":15,"b":12.25,"l":0},{"r":15,"b":12.5,"l":0},{"r":15,"b":12.75,"l":0},{"r":15,"b":13,"l":0},{"r":15,"b":13.25,"l":0},{"r":15,"b":13.5,"l":0},{"r":15,"b":14.25,"l":0},{"r":15,"b":14.5,"l":0},{"r":15,"b":14.75,"l":0},{"r":15,"b":15,"l":0},
{"r":15,"b":12,"l":3},{"r":15,"b":12.75,"l":3},{"r":15,"b":13.5,"l":3},{"r":15,"b":14.25,"l":3},{"r":15,"b":15,"l":3},

{"r":16,"b":0,"l":0},{"r":16,"b":0.25,"l":0},{"r":16,"b":0.5,"l":0},{"r":16,"b":0.75,"l":0},{"r":16,"b":1,"l":0},{"r":16,"b":1.25,"l":0},{"r":16,"b":1.5,"l":0},{"r":16,"b":1.75,"l":0},{"r":16,"b":2,"l":0},{"r":16,"b":2.25,"l":0},{"r":16,"b":2.5,"l":0},{"r":16,"b":2.75,"l":0},{"r":16,"b":3,"l":0},{"r":16,"b":3.5,"l":0},
{"r":16,"b":0,"l":1},
{"r":16,"b":0.25,"l":2},{"r":16,"b":0.75,"l":2},{"r":16,"b":1.5,"l":2},{"r":16,"b":2.25,"l":2},{"r":16,"b":3,"l":2},
{"r":16,"b":4,"l":2,"e":6.25},{"r":16,"b":4,"l":4,"e":6.25},{"r":16,"b":6.5,"l":1,"e":7.75},{"r":16,"b":6.5,"l":3,"e":7.75},
{"r":16,"b":8,"l":1,"e":9.25},{"r":16,"b":8,"l":2,"e":9.25},{"r":16,"b":9.5,"l":0,"e":11.75},{"r":16,"b":9.5,"l":2,"e":11.75},
{"r":16,"b":12,"l":0,"s":1},{"r":16,"b":12,"l":3,"s":1},{"r":16,"b":12.5,"l":4,"e":13.25,"s":1},{"r":16,"b":13.5,"l":3,"e":14.25,"s":1},{"r":16,"b":14.5,"l":1,"e":15.75,"s":1},

{"r":17,"b":0,"l":0},{"r":17,"b":2.5,"l":0,"e":3.75},{"r":17,"b":0,"l":1},{"r":17,"b":1.5,"l":1,"e":2.25},{"r":17,"b":0.5,"l":2,"e":1.25},
{"r":17,"b":4,"l":2,"e":6.25},{"r":17,"b":4,"l":4,"e":6.25},{"r":17,"b":6.5,"l":1,"e":7.75},{"r":17,"b":6.5,"l":3,"e":7.75},
{"r":17,"b":8,"l":1,"e":9.25},{"r":17,"b":8,"l":2,"e":9.25},{"r":17,"b":9.5,"l":0,"e":11.75},{"r":17,"b":9.5,"l":2,"e":11.75},
{"r":17,"b":12,"l":0},{"r":17,"b":12,"l":3},{"r":17,"b":12.5,"l":4,"e":13.25},{"r":17,"b":13.5,"l":3,"e":14.25},{"r":17,"b":14.5,"l":1,"e":15.75},

{"r":18,"b":0,"l":2,"e":2.25},{"r":18,"b":0,"l":3,"e":2.25},
{"r":18,"b":4,"l":1},{"r":18,"b":4.25,"l":1},{"r":18,"b":4.5,"l":1},{"r":18,"b":4.75,"l":1},{"r":18,"b":5,"l":1},{"r":18,"b":5.25,"l":1},{"r":18,"b":5.5,"l":1},{"r":18,"b":5.75,"l":1},{"r":18,"b":6,"l":1},{"r":18,"b":6.25,"l":1},{"r":18,"b":6.5,"l":1},{"r":18,"b":6.75,"l":1},{"r":18,"b":7,"l":1},{"r":18,"b":7.25,"l":1},{"r":18,"b":7.5,"l":1},{"r":18,"b":7.75,"l":1},{"r":18,"b":8,"l":1},{"r":18,"b":8.25,"l":1},{"r":18,"b":8.5,"l":1},{"r":18,"b":8.75,"l":1},{"r":18,"b":9,"l":1},{"r":18,"b":9.25,"l":1},{"r":18,"b":9.5,"l":1},{"r":18,"b":9.75,"l":1},{"r":18,"b":10,"l":1},{"r":18,"b":10.25,"l":1},{"r":18,"b":10.5,"l":1},{"r":18,"b":10.75,"l":1},{"r":18,"b":11,"l":1},
{"r":18,"b":4,"l":3},{"r":18,"b":4.75,"l":3},{"r":18,"b":5.5,"l":3},{"r":18,"b":6.25,"l":3},{"r":18,"b":7,"l":3},
{"r":18,"b":8,"l":4},{"r":18,"b":8.75,"l":4},{"r":18,"b":9.5,"l":4},{"r":18,"b":10.25,"l":4},{"r":18,"b":11,"l":4},
{"r":18,"b":12,"l":0},{"r":18,"b":12.25,"l":0},{"r":18,"b":12.5,"l":0},{"r":18,"b":12.75,"l":0},{"r":18,"b":13,"l":0},{"r":18,"b":13.25,"l":0},{"r":18,"b":13.5,"l":0},{"r":18,"b":13.75,"l":0},{"r":18,"b":14,"l":0},{"r":18,"b":14.25,"l":0},{"r":18,"b":14.5,"l":0},{"r":18,"b":14.75,"l":0},{"r":18,"b":15,"l":0},{"r":18,"b":15.75,"l":0},
{"r":18,"b":12,"l":3},{"r":18,"b":12.75,"l":3},{"r":18,"b":13.5,"l":3},{"r":18,"b":14.25,"l":3},{"r":18,"b":15,"l":3},

{"r":19,"b":0,"l":0},{"r":19,"b":0.25,"l":0},{"r":19,"b":0.5,"l":0},{"r":19,"b":0.75,"l":0},{"r":19,"b":1.5,"l":0},{"r":19,"b":1.75,"l":0},{"r":19,"b":2,"l":0},{"r":19,"b":2.25,"l":0},{"r":19,"b":2.5,"l":0},{"r":19,"b":2.75,"l":0},{"r":19,"b":3,"l":0},{"r":19,"b":3.5,"l":0},
{"r":19,"b":0,"l":1},
{"r":19,"b":0.25,"l":2},{"r":19,"b":0.5,"l":2},{"r":19,"b":0.75,"l":2},{"r":19,"b":1.5,"l":2},{"r":19,"b":2.25,"l":2},{"r":19,"b":3,"l":2},
{"r":19,"b":4,"l":1,"s":1},{"r":19,"b":4.25,"l":1,"s":1},{"r":19,"b":4.5,"l":1,"s":1},{"r":19,"b":4.75,"l":1,"s":1},{"r":19,"b":5,"l":1,"s":1},{"r":19,"b":5.25,"l":1,"s":1},{"r":19,"b":5.5,"l":1,"s":1},{"r":19,"b":5.75,"l":1,"s":1},{"r":19,"b":6,"l":1,"s":1},{"r":19,"b":6.25,"l":1,"s":1},{"r":19,"b":6.5,"l":1,"s":1},{"r":19,"b":6.75,"l":1,"s":1},{"r":19,"b":7,"l":1,"s":1},{"r":19,"b":7.25,"l":1,"s":1},{"r":19,"b":7.5,"l":1,"s":1},{"r":19,"b":7.75,"l":1,"s":1},
{"r":19,"b":8,"l":1},{"r":19,"b":8.25,"l":1},{"r":19,"b":8.5,"l":1},{"r":19,"b":8.75,"l":1},{"r":19,"b":9,"l":1},{"r":19,"b":9.25,"l":1},{"r":19,"b":9.5,"l":1},{"r":19,"b":9.75,"l":1},{"r":19,"b":10,"l":1},{"r":19,"b":10.25,"l":1},{"r":19,"b":10.5,"l":1},{"r":19,"b":10.75,"l":1},{"r":19,"b":11,"l":1},
{"r":19,"b":4,"l":3,"s":1},{"r":19,"b":4.75,"l":3,"s":1},{"r":19,"b":5.5,"l":3,"s":1},{"r":19,"b":6.25,"l":3,"s":1},{"r":19,"b":7,"l":3,"s":1},
{"r":19,"b":8,"l":4},{"r":19,"b":8.75,"l":4},{"r":19,"b":9.5,"l":4},{"r":19,"b":10.25,"l":4},{"r":19,"b":11,"l":4},
{"r":19,"b":12,"l":0},{"r":19,"b":12.25,"l":0},{"r":19,"b":12.5,"l":0},{"r":19,"b":12.75,"l":0},{"r":19,"b":13,"l":0},{"r":19,"b":13.25,"l":0},{"r":19,"b":13.5,"l":0},{"r":19,"b":14.25,"l":0},{"r":19,"b":14.5,"l":0},{"r":19,"b":14.75,"l":0},{"r":19,"b":15,"l":0},
{"r":19,"b":12,"l":3},{"r":19,"b":12.75,"l":3},{"r":19,"b":13.5,"l":3},{"r":19,"b":14.25,"l":3},{"r":19,"b":15,"l":3},

{"r":20,"b":0,"l":0},{"r":20,"b":0.25,"l":0},{"r":20,"b":0.5,"l":0},{"r":20,"b":0.75,"l":0},{"r":20,"b":1,"l":0},{"r":20,"b":1.25,"l":0},{"r":20,"b":1.5,"l":0},{"r":20,"b":1.75,"l":0},{"r":20,"b":2,"l":0},{"r":20,"b":2.25,"l":0},{"r":20,"b":2.5,"l":0},{"r":20,"b":2.75,"l":0},{"r":20,"b":3,"l":0},{"r":20,"b":3.5,"l":0},
{"r":20,"b":0,"l":1},
{"r":20,"b":0.25,"l":2},{"r":20,"b":0.75,"l":2},{"r":20,"b":1.5,"l":2},{"r":20,"b":2.25,"l":2},{"r":20,"b":3,"l":2},
{"r":20,"b":4,"l":1},{"r":20,"b":4.25,"l":1},{"r":20,"b":4.5,"l":1},{"r":20,"b":4.75,"l":1},{"r":20,"b":5,"l":1},{"r":20,"b":5.25,"l":1},{"r":20,"b":5.5,"l":1},{"r":20,"b":5.75,"l":1},{"r":20,"b":6,"l":1},{"r":20,"b":6.25,"l":1},{"r":20,"b":6.5,"l":1},{"r":20,"b":6.75,"l":1},{"r":20,"b":7,"l":1},{"r":20,"b":7.25,"l":1},{"r":20,"b":7.5,"l":1},{"r":20,"b":7.75,"l":1},{"r":20,"b":8,"l":1},{"r":20,"b":8.25,"l":1},{"r":20,"b":8.5,"l":1},{"r":20,"b":8.75,"l":1},{"r":20,"b":9,"l":1},{"r":20,"b":9.25,"l":1},{"r":20,"b":9.5,"l":1},{"r":20,"b":9.75,"l":1},{"r":20,"b":10,"l":1},{"r":20,"b":10.25,"l":1},{"r":20,"b":10.5,"l":1},{"r":20,"b":10.75,"l":1},{"r":20,"b":11,"l":1},
{"r":20,"b":4,"l":3},{"r":20,"b":4.75,"l":3},{"r":20,"b":5.5,"l":3},{"r":20,"b":6.25,"l":3},{"r":20,"b":7,"l":3},
{"r":20,"b":8,"l":4},{"r":20,"b":8.75,"l":4},{"r":20,"b":9.5,"l":4},{"r":20,"b":10.25,"l":4},{"r":20,"b":11,"l":4},
{"r":20,"b":12,"l":0},{"r":20,"b":12.25,"l":0},{"r":20,"b":12.5,"l":0},{"r":20,"b":12.75,"l":0},{"r":20,"b":13,"l":0},{"r":20,"b":13.25,"l":0},{"r":20,"b":13.5,"l":0},{"r":20,"b":13.75,"l":0},{"r":20,"b":14,"l":0},{"r":20,"b":14.25,"l":0},{"r":20,"b":14.5,"l":0},{"r":20,"b":14.75,"l":0},{"r":20,"b":15,"l":0},{"r":20,"b":15.75,"l":0},
{"r":20,"b":12,"l":3},{"r":20,"b":12.75,"l":3},{"r":20,"b":13.5,"l":3},{"r":20,"b":14.25,"l":3},{"r":20,"b":15,"l":3},

{"r":21,"b":0,"l":0},{"r":21,"b":0.25,"l":0},{"r":21,"b":0.5,"l":0},{"r":21,"b":0.75,"l":0},{"r":21,"b":1.5,"l":0},{"r":21,"b":1.75,"l":0},{"r":21,"b":2,"l":0},{"r":21,"b":2.25,"l":0},{"r":21,"b":2.5,"l":0},{"r":21,"b":2.75,"l":0},{"r":21,"b":3,"l":0},{"r":21,"b":3.5,"l":0},
{"r":21,"b":0,"l":1},
{"r":21,"b":0.25,"l":2},{"r":21,"b":0.5,"l":2},{"r":21,"b":0.75,"l":2},{"r":21,"b":1.5,"l":2},{"r":21,"b":2.25,"l":2},{"r":21,"b":3,"l":2},
{"r":21,"b":4,"l":1},{"r":21,"b":4.25,"l":1},{"r":21,"b":4.5,"l":1},{"r":21,"b":4.75,"l":1},{"r":21,"b":5,"l":1},{"r":21,"b":5.25,"l":1},{"r":21,"b":5.5,"l":1},{"r":21,"b":5.75,"l":1},{"r":21,"b":6,"l":1},{"r":21,"b":6.25,"l":1},{"r":21,"b":6.5,"l":1},{"r":21,"b":6.75,"l":1},{"r":21,"b":7,"l":1},{"r":21,"b":7.25,"l":1},{"r":21,"b":7.5,"l":1},{"r":21,"b":7.75,"l":1},{"r":21,"b":8,"l":1},{"r":21,"b":8.25,"l":1},{"r":21,"b":8.5,"l":1},{"r":21,"b":8.75,"l":1},{"r":21,"b":9,"l":1},{"r":21,"b":9.25,"l":1},{"r":21,"b":9.5,"l":1},{"r":21,"b":9.75,"l":1},{"r":21,"b":10,"l":1},{"r":21,"b":10.25,"l":1},{"r":21,"b":10.5,"l":1},{"r":21,"b":10.75,"l":1},{"r":21,"b":11,"l":1},
{"r":21,"b":4,"l":3},{"r":21,"b":4.75,"l":3},{"r":21,"b":5.5,"l":3},{"r":21,"b":6.25,"l":3},{"r":21,"b":7,"l":3},
{"r":21,"b":8,"l":4},{"r":21,"b":8.75,"l":4},{"r":21,"b":9.5,"l":4},{"r":21,"b":10.25,"l":4},{"r":21,"b":11,"l":4},
{"r":21,"b":12,"l":0},{"r":21,"b":12.25,"l":0},{"r":21,"b":12.5,"l":0},{"r":21,"b":12.75,"l":0},{"r":21,"b":13,"l":0},{"r":21,"b":13.25,"l":0},{"r":21,"b":13.5,"l":0},{"r":21,"b":14.25,"l":0},{"r":21,"b":14.5,"l":0},{"r":21,"b":14.75,"l":0},{"r":21,"b":15,"l":0},
{"r":21,"b":12,"l":3},{"r":21,"b":12.75,"l":3},{"r":21,"b":13.5,"l":3},{"r":21,"b":14.25,"l":3},{"r":21,"b":15,"l":3}
]},
"facet":{"row":{"field":"r","type":"ordinal","header":null}},
"spacing":{"row":93},
"bounds":"flush",
"spec":{
"width":960,"height":60,
"layer":[
{"transform":[{"filter":"datum.k == null && datum.e != null"}],
 "mark":{"type":"rule","strokeWidth":7,"strokeCap":"butt"},
 "encoding":{
  "x":{"field":"b","type":"quantitative","scale":{"domain":[0,16],"nice":false,"zero":false},
       "axis":{"values":[0.5,1,1.5,2,2.5,3,3.5,4,4.5,5,5.5,6,6.5,7,7.5,8,8.5,9,9.5,10,10.5,11,11.5,12,12.5,13,13.5,14,14.5,15,15.5],"grid":true,"labels":false,"ticks":false,"domain":false,"title":null,"gridWidth":1,"gridOpacity":1,
       "gridColor":{"condition":[{"test":"datum.value % 4 === 0","value":"#000000"},{"test":"datum.value % 1 === 0","value":"#a8a8a8"}],"value":"#e2e2e2"}}},
  "x2":{"field":"e"},
  "y":{"field":"l","type":"quantitative","scale":{"domain":[0,4],"reverse":true,"nice":false,"zero":false},
       "axis":{"values":[1,2,3],"grid":true,"labels":false,"ticks":false,"domain":false,"title":null,"gridColor":"#999999","gridWidth":1.3,"gridOpacity":1}},
  "stroke":{"field":"l","type":"nominal","scale":{"domain":[0,1,2,3,4],"range":["#00ff00","#ff0000","#ffff00","#0000ff","#ffa500"]},"legend":null}
 }},
{"transform":[{"filter":"datum.k == null && datum.s == null"}],
 "mark":{"type":"point","shape":"circle","filled":true,"size":115,"stroke":"#000000","strokeWidth":1,"opacity":1},
 "encoding":{
  "x":{"field":"b","type":"quantitative"},
  "y":{"field":"l","type":"quantitative"},
  "fill":{"field":"l","type":"nominal","scale":{"domain":[0,1,2,3,4],"range":["#00ff00","#ff0000","#ffff00","#0000ff","#ffa500"]},"legend":null}
 }},
{"transform":[{"filter":"datum.k == null && datum.s == 1"}],
 "mark":{"type":"point","shape":"M0,-1L0.235,-0.324L0.951,-0.309L0.38,0.124L0.588,0.809L0,0.4L-0.588,0.809L-0.38,0.124L-0.951,-0.309L-0.235,-0.324Z","filled":true,"size":180,"stroke":"#000000","strokeWidth":0.8,"opacity":1},
 "encoding":{
  "x":{"field":"b","type":"quantitative"},
  "y":{"field":"l","type":"quantitative"},
  "fill":{"field":"l","type":"nominal","legend":null}
 }},
{"transform":[{"filter":"datum.k == 'sp'"}],
 "mark":{"type":"rect","fill":"#00ff00","opacity":0.333},
 "encoding":{"x":{"field":"b","type":"quantitative"},"x2":{"field":"e"},"y":{"datum":0},"y2":{"datum":4}}},
{"transform":[{"filter":"datum.k == 'od'"}],
 "mark":{"type":"rect","fill":"#0000ff","opacity":0.333},
 "encoding":{"x":{"field":"b","type":"quantitative"},"x2":{"field":"e"},"y":{"datum":0},"y2":{"datum":4}}},
{"transform":[{"filter":"datum.k == 'act'"}],
 "mark":{"type":"rect","fill":"#ff0000","opacity":0.333},
 "encoding":{"x":{"field":"b","type":"quantitative"},"x2":{"field":"e"},"y":{"datum":0},"y2":{"datum":4}}},
{"transform":[{"filter":"datum.k == 'ts'"}],
 "mark":{"type":"text","font":"Liberation Sans","fontSize":32,"fontWeight":"bold","color":"#aaaaaa","align":"center","baseline":"middle"},
 "encoding":{"text":{"field":"t"},"x":{"datum":0.225},"y":{"datum":1.07}}},
{"transform":[{"filter":"datum.k == 'ts'"}],
 "mark":{"type":"text","font":"Liberation Sans","fontSize":32,"fontWeight":"bold","color":"#aaaaaa","align":"center","baseline":"middle"},
 "encoding":{"text":{"field":"t"},"x":{"datum":0.225},"y":{"datum":3.07}}},
{"transform":[{"filter":"datum.k == 'tp'"}],
 "mark":{"type":"text","font":"DejaVu Sans Condensed","fontSize":11,"color":"#999999","align":"left","baseline":"middle"},
 "encoding":{"text":{"field":"t"},"x":{"field":"b","type":"quantitative"},"y":{"datum":-2.47}}},
{"transform":[{"filter":"datum.k == 'm'"}],
 "mark":{"type":"text","font":"DejaVu Sans Condensed","fontSize":11,"color":"#8b0000","align":"left","baseline":"middle","dx":1.5},
 "encoding":{"text":{"field":"m"},"x":{"field":"b","type":"quantitative"},"y":{"datum":-0.71}}},
{"transform":[{"filter":"datum.k == 'm'"}],
 "mark":{"type":"text","font":"DejaVu Sans Condensed","fontSize":10.5,"color":"#999999","align":"right","baseline":"middle"},
 "encoding":{"text":{"field":"g"},"x":{"field":"e","type":"quantitative"},"y":{"datum":4.8}}},
{"transform":[{"filter":"datum.k == 'm'"}],
 "mark":{"type":"text","font":"DejaVu Sans Condensed","fontSize":10.5,"color":"#006400","align":"right","baseline":"middle"},
 "encoding":{"text":{"field":"c"},"x":{"field":"e","type":"quantitative"},"y":{"datum":5.67}}},
{"transform":[{"filter":"datum.k == 'm'"}],
 "mark":{"type":"text","font":"DejaVu Sans Condensed","fontSize":10.5,"color":"#009999","align":"right","baseline":"middle"},
 "encoding":{"text":{"field":"p"},"x":{"field":"e","type":"quantitative"},"y":{"datum":6.53}}}
]},
"config":{"view":{"stroke":"#000000","strokeWidth":1.5}}
}
